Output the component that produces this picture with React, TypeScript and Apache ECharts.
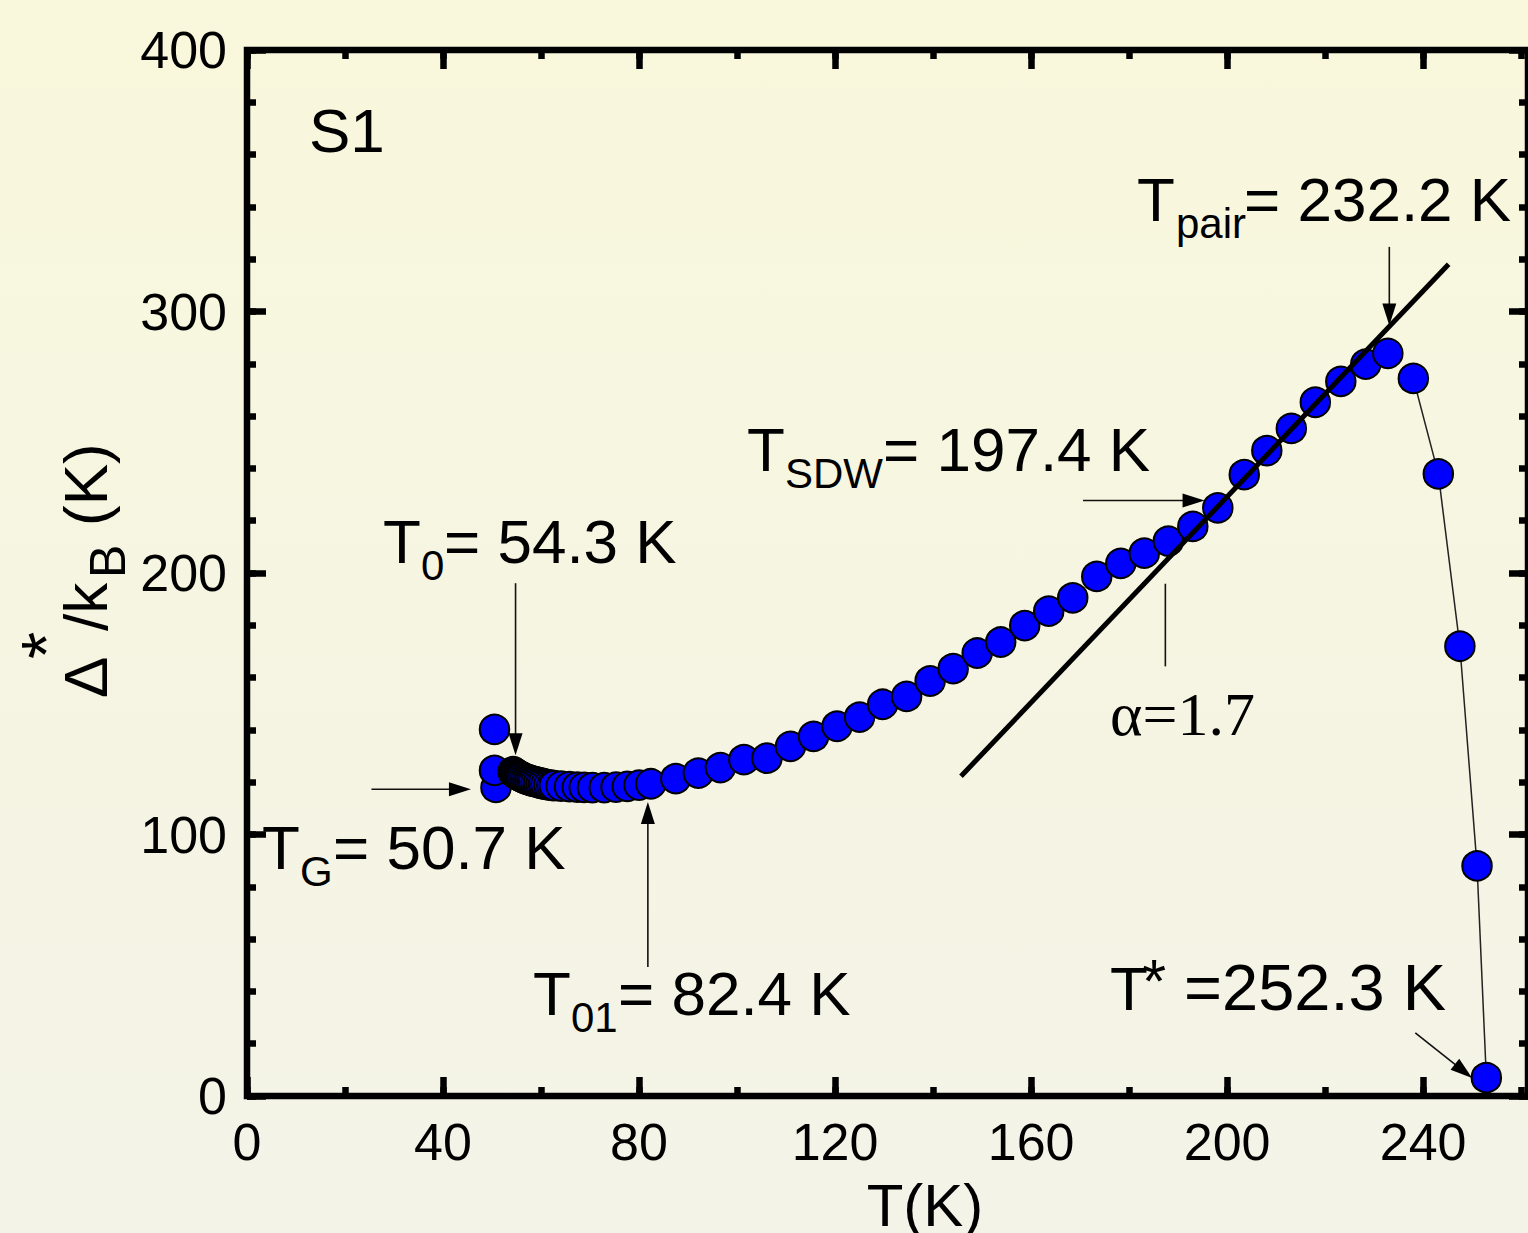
import React, { useEffect, useRef } from "react";
import * as echarts from "echarts";

// ---- data ----
const tempK: number[] = [
  50.8, 50.5, 50.5,
  54.3, 54.6, 54.9, 55.2, 55.5, 55.8, 56.1, 56.5, 56.9, 57.3, 57.7, 58.1, 58.5,
  59.0, 59.5, 60.0, 60.5, 61.0, 61.6, 62.2, 62.7, 64.1, 65.8, 67.4, 68.8, 70.5,
  72.9, 75.3, 77.6, 80.0, 82.4,
  87.5, 92.1, 96.6, 101.4, 106.1, 110.9, 115.6, 120.4, 125.0, 129.7, 134.6,
  139.4, 144.1, 149.0, 153.8, 158.7, 163.6, 168.5, 173.4, 178.3, 183.1, 188.0,
  193.0, 198.1, 203.5, 208.1, 213.1, 218.0, 223.2, 228.3, 232.8, 238.0, 243.1,
  247.5, 251.0, 252.9,
];
const gapK: number[] = [
  118.0, 124.5, 140.2,
  124.0, 123.6, 123.2, 122.8, 122.5, 122.2, 121.9, 121.6, 121.3, 121.0, 120.8,
  120.5, 120.3, 120.1, 119.8, 119.6, 119.4, 119.2, 119.0, 118.8, 118.7, 118.5,
  118.3, 118.1, 118.0, 117.9, 117.9, 118.1, 118.4, 118.9, 119.4,
  121.4, 123.5, 125.6, 128.6, 129.2, 133.7, 137.5, 141.4, 144.9, 149.8, 152.8,
  158.7, 163.4, 169.4, 173.6, 179.9, 185.4, 190.5, 198.7, 203.7, 207.6, 212.2,
  217.8, 224.9, 237.6, 246.8, 255.3, 265.3, 273.3, 279.9, 284.0, 274.4, 237.9,
  172.0, 88.0, 7.0,
];
// number of high-T points joined by the thin line
const tailCount = 5;

// power-law fit (alpha = 1.7) drawn as a straight segment
const fitT: number[] = [145.7, 245.2];
const fitGap: number[] = [122.3, 318.1];

// annotation arrows [T1, v1, T2 (tip), v2 (tip), hasHead]
const arrowTpair = [233.1, 324.7, 233.1, 294.6, 1];
const arrowTsdw = [170.6, 227.7, 195.4, 227.7, 1];
const arrowT0 = [54.8, 196.1, 54.8, 130.3, 1];
const arrowTG = [25.4, 117.3, 45.7, 117.3, 1];
const arrowT01 = [81.8, 49.3, 81.8, 112.4, 1];
const arrowTstar = [238.4, 24.1, 250.0, 6.9, 1];
const alphaMark = [187.4, 195.9, 187.4, 164.3, 0];

// axes (the right edge of the frame lies just outside the picture)
const xRange = [0, 261.4];
const xMajor = 40;
const xMinor = 20;
const yRange = [0, 400];
const yMajor = 100;
const yMinor = 20;

const SANS = '"Liberation Sans", Arial, Helvetica, sans-serif';
const SERIF = '"Liberation Serif", "Times New Roman", serif';

function txt(
  text: string,
  x: number,
  baseline: number,
  fs: number,
  opts: { family?: string; align?: string; rotate?: boolean } = {}
) {
  const family = opts.family || SANS;
  const mid = opts.rotate ? x : baseline - 0.3465 * fs;
  return {
    type: "text",
    x: x,
    y: opts.rotate ? baseline : mid,
    rotation: opts.rotate ? Math.PI / 2 : 0,
    silent: true,
    z: 100,
    style: {
      text,
      font: `normal ${fs}px ${family}`,
      fill: "#000",
      textAlign: opts.align || "left",
      textVerticalAlign: "middle",
      align: opts.align || "left",
      verticalAlign: "middle",
    },
  };
}

const GRID = { left: 247, right: -3, top: 50, bottom: 137 };

function buildOption() {
  const pts = tempK.map((t, i) => [t, gapK[i]]);
  const tail = pts.slice(pts.length - tailCount);
  const fit = fitT.map((t, i) => [t, fitGap[i]]);
  const arrows = [arrowTpair, arrowTsdw, arrowT0, arrowTG, arrowT01, arrowTstar, alphaMark];

  const tickW = 6.5;
  const majorX = (pos: string, labels: boolean) => ({
    type: "value",
    gridIndex: 0,
    position: pos,
    min: xRange[0],
    max: xRange[1],
    interval: xMajor,
    axisLine: { show: false, onZero: false },
    axisTick: { show: true, inside: true, length: 19, lineStyle: { color: "#000", width: tickW } },
    splitLine: { show: false },
    axisLabel: {
      show: labels,
      showMaxLabel: false,
      margin: 20,
      color: "#000",
      fontSize: 52,
      fontFamily: SANS,
    },
  });
  const majorY = (pos: string, labels: boolean) => ({
    type: "value",
    gridIndex: 0,
    position: pos,
    min: yRange[0],
    max: yRange[1],
    interval: yMajor,
    axisLine: { show: false, onZero: false },
    axisTick: { show: true, inside: true, length: 19, lineStyle: { color: "#000", width: tickW } },
    splitLine: { show: false },
    axisLabel: {
      show: labels,
      margin: 20,
      color: "#000",
      fontSize: 52,
      fontFamily: SANS,
    },
  });
  const minorX = (pos: string) => ({
    type: "value",
    gridIndex: 1,
    position: pos,
    min: xRange[0],
    max: xRange[1],
    interval: xMinor,
    axisLine: { show: false, onZero: false },
    axisTick: { show: true, inside: true, length: 9, lineStyle: { color: "#000", width: tickW } },
    splitLine: { show: false },
    axisLabel: { show: false },
  });
  const minorY = (pos: string) => ({
    type: "value",
    gridIndex: 1,
    position: pos,
    min: yRange[0],
    max: yRange[1],
    interval: yMinor,
    axisLine: { show: false, onZero: false },
    axisTick: { show: true, inside: true, length: 9, lineStyle: { color: "#000", width: tickW } },
    splitLine: { show: false },
    axisLabel: { show: false },
  });

  const graphics: any[] = [
    txt("S1", 309, 152, 62),
    // T_pair
    txt("T", 1137, 221, 62),
    txt("pair", 1176, 238, 42),
    txt("= 232.2 K", 1244, 221, 62),
    // T_SDW
    txt("T", 747, 471, 62),
    txt("SDW", 785, 488, 42),
    txt("= 197.4 K", 883, 471, 62),
    // T_0
    txt("T", 383, 563, 62),
    txt("0", 421, 580, 42),
    txt("= 54.3 K", 444, 563, 62),
    // T_G
    txt("T", 262, 869, 62),
    txt("G", 300, 886, 42),
    txt("= 50.7 K", 333, 869, 62),
    // T_01
    txt("T", 533, 1015, 62),
    txt("01", 571, 1032, 42),
    txt("= 82.4 K", 618, 1015, 62),
    // T*
    txt("T", 1110, 1010, 62),
    txt("*", 1142, 1002, 62),
    txt(" =252.3 K", 1166, 1010, 65),
    // alpha
    txt("\u03b1=1.7", 1110, 735, 62, { family: SERIF }),
    // x axis title
    txt("T(K)", 925, 1226, 60, { align: "center" }),
    // y axis title (rotated): x = central line, baseline param = start y
    txt("\u0394", 85.5, 698, 62, { rotate: true }),
    txt("*", 47, 659, 70, { rotate: true }),
    txt("/k", 85.5, 631, 62, { rotate: true }),
    txt("B", 107.7, 578, 50, { rotate: true }),
    txt("(K)", 85.5, 526, 62, { rotate: true }),
  ];

  return {
    animation: false,
    backgroundColor: "transparent",
    textStyle: { fontFamily: SANS },
    grid: [
      {
        ...GRID,
        show: true,
        borderColor: "#000",
        borderWidth: tickW,
        backgroundColor: "transparent",
        containLabel: false,
      },
      { ...GRID, show: false, containLabel: false },
    ],
    xAxis: [majorX("bottom", true), majorX("top", false), minorX("bottom"), minorX("top")],
    yAxis: [majorY("left", true), majorY("right", false), minorY("left"), minorY("right")],
    series: [
      {
        type: "line",
        xAxisIndex: 0,
        yAxisIndex: 0,
        data: tail,
        symbol: "none",
        showSymbol: false,
        lineStyle: { color: "#222", width: 1.5 },
        z: 2,
        silent: true,
      },
      {
        type: "scatter",
        xAxisIndex: 0,
        yAxisIndex: 0,
        data: pts,
        symbol: "circle",
        symbolSize: 29.5,
        itemStyle: { color: "#0000ff", borderColor: "#000", borderWidth: 2, opacity: 1 },
        z: 3,
        silent: true,
      },
      {
        type: "line",
        xAxisIndex: 0,
        yAxisIndex: 0,
        data: fit,
        symbol: "none",
        showSymbol: false,
        lineStyle: { color: "#000", width: 5 },
        z: 4,
        silent: true,
      },
      {
        type: "custom",
        xAxisIndex: 0,
        yAxisIndex: 0,
        data: arrows,
        encode: { x: [0, 2], y: [1, 3] },
        clip: false,
        z: 5,
        silent: true,
        renderItem: (_params: any, api: any) => {
          const a = api.coord([api.value(0), api.value(1)]);
          const b = api.coord([api.value(2), api.value(3)]);
          const head = api.value(4);
          const dx = b[0] - a[0];
          const dy = b[1] - a[1];
          const len = Math.hypot(dx, dy) || 1;
          const ux = dx / len;
          const uy = dy / len;
          const L = 22;
          const W = 7;
          const children: any[] = [];
          const ex = head ? b[0] - ux * L * 0.7 : b[0];
          const ey = head ? b[1] - uy * L * 0.7 : b[1];
          children.push({
            type: "line",
            shape: { x1: a[0], y1: a[1], x2: ex, y2: ey },
            style: { stroke: "#111", lineWidth: 1.6 },
          });
          if (head) {
            const bx = b[0] - ux * L;
            const by = b[1] - uy * L;
            children.push({
              type: "polygon",
              shape: {
                points: [
                  [b[0], b[1]],
                  [bx - uy * W, by + ux * W],
                  [bx + uy * W, by - ux * W],
                ],
              },
              style: { fill: "#000" },
            });
          }
          return { type: "group", children };
        },
      },
    ],
    graphic: graphics,
  };
}

export default function App() {
  const ref = useRef<HTMLDivElement>(null);
  useEffect(() => {
    const el = ref.current;
    if (!el) return;
    const chart = echarts.init(el, null, { renderer: "svg" });
    chart.setOption(buildOption() as any);
    return () => chart.dispose();
  }, []);
  return (
    <div
      ref={ref}
      style={{
        position: "fixed",
        left: 0,
        top: 0,
        width: 1528,
        height: 1233,
        background: "linear-gradient(180deg, #f9f8dc 0%, #f6f5e2 50%, #f3f3e8 100%)",
      }}
    />
  );
}
